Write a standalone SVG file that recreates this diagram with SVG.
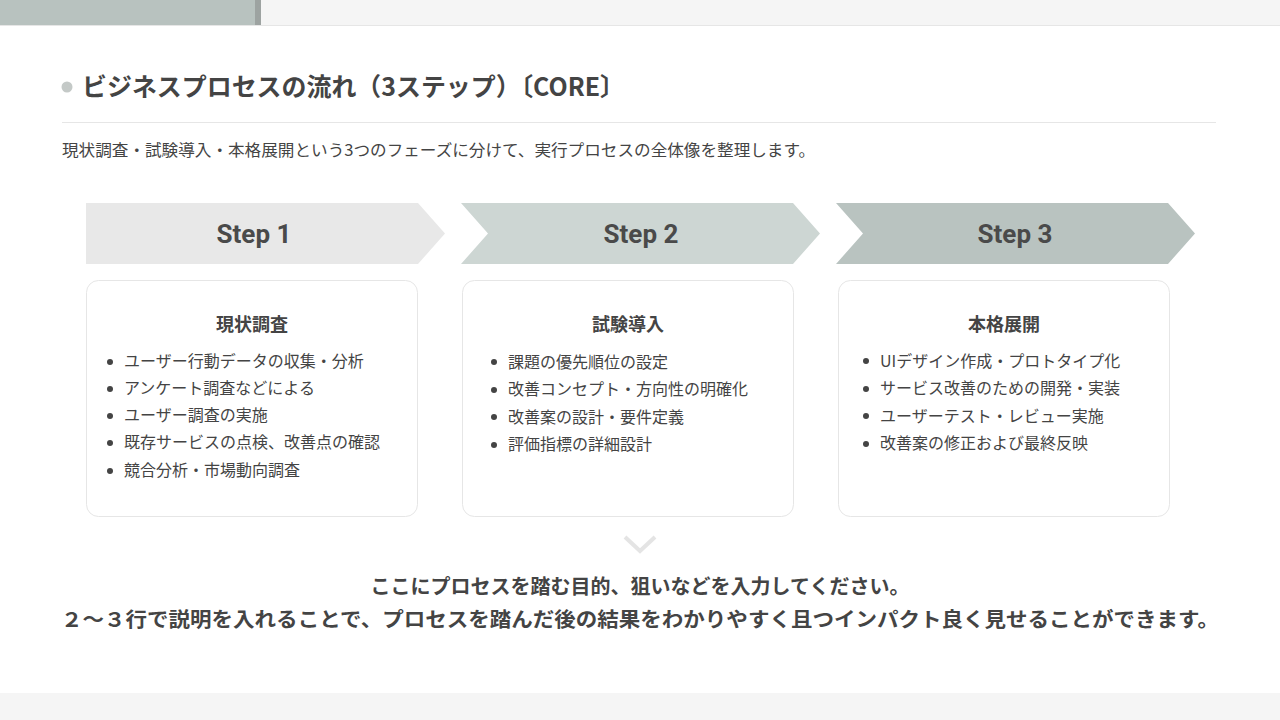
<svg xmlns="http://www.w3.org/2000/svg" width="1280" height="720" viewBox="0 0 1280 720">
<style>
text{font-family:"Noto Sans CJK JP","Noto Sans",sans-serif;fill:#444}
.step{font-family:Roboto,"Noto Sans",sans-serif;font-size:26px;font-weight:700;fill:#4a4a4a;text-anchor:middle}
.card{fill:#fff;stroke:#e6e6e6;stroke-width:1}
.ct{font-size:18px;font-weight:700;text-anchor:middle;fill:#444}
.li{font-size:16px;fill:#555}
.dot{fill:#444}
.msg{font-size:20px;font-weight:700;text-anchor:middle;fill:#444}
</style>
<rect width="1280" height="720" fill="#fff"/>
<rect x="0" y="0" width="1280" height="25" fill="#f5f5f5"/>
<rect x="0" y="0" width="255" height="25" fill="#b8c2bf"/>
<rect x="255" y="0" width="6" height="25" fill="#9da3a1"/>
<line x1="0" y1="25.5" x2="1280" y2="25.5" stroke="#e6e6e6"/>
<rect x="0" y="693" width="1280" height="27" fill="#f5f5f5"/>
<g id="header">
<circle cx="67" cy="87" r="5.5" fill="#c4c9c7"/>
<text x="82" y="96" font-size="25" font-weight="700" fill="#444" textLength="543" lengthAdjust="spacingAndGlyphs">ビジネスプロセスの流れ（3ステップ）〔CORE〕</text>
<line x1="62" y1="122.5" x2="1216" y2="122.5" stroke="#e6e6e6"/>
<text x="62" y="156" font-size="16" fill="#444" textLength="753" lengthAdjust="spacingAndGlyphs">現状調査・試験導入・本格展開という3つのフェーズに分けて、実行プロセスの全体像を整理します。</text>
</g>
<g id="step1">
<polygon points="86,203 418,203 445,233.5 418,264 86,264" fill="#e8e8e8"/>
<text class="step" x="254" y="243">Step 1</text>
</g>
<g id="step2">
<polygon points="461,203 793,203 820,233.5 793,264 461,264 488,233.5" fill="#cdd6d3"/>
<text class="step" x="641" y="243">Step 2</text>
</g>
<g id="step3">
<polygon points="836,203 1168,203 1195,233.5 1168,264 836,264 863,233.5" fill="#b9c3c0"/>
<text class="step" x="1015" y="243">Step 3</text>
</g>
<g id="card1">
<rect class="card" x="86.5" y="280.5" width="331" height="236" rx="12"/>
<text class="ct" x="252" y="331">現状調査</text>
<g class="li">
<circle class="dot" cx="110" cy="362" r="3"/><text x="124" y="367">ユーザー行動データの収集・分析</text>
<circle class="dot" cx="110" cy="389" r="3"/><text x="124" y="394">アンケート調査などによる</text>
<circle class="dot" cx="110" cy="416" r="3"/><text x="124" y="421">ユーザー調査の実施</text>
<circle class="dot" cx="110" cy="443" r="3"/><text x="124" y="448">既存サービスの点検、改善点の確認</text>
<circle class="dot" cx="110" cy="471" r="3"/><text x="124" y="476">競合分析・市場動向調査</text>
</g>
</g>
<g id="card2">
<rect class="card" x="462.5" y="280.5" width="331" height="236" rx="12"/>
<text class="ct" x="628" y="331">試験導入</text>
<g class="li">
<circle class="dot" cx="494" cy="362" r="3"/><text x="508" y="368">課題の優先順位の設定</text>
<circle class="dot" cx="494" cy="390" r="3"/><text x="508" y="395">改善コンセプト・方向性の明確化</text>
<circle class="dot" cx="494" cy="417" r="3"/><text x="508" y="423">改善案の設計・要件定義</text>
<circle class="dot" cx="494" cy="445" r="3"/><text x="508" y="450">評価指標の詳細設計</text>
</g>
</g>
<g id="card3">
<rect class="card" x="838.5" y="280.5" width="331" height="236" rx="12"/>
<text class="ct" x="1004" y="331">本格展開</text>
<g class="li">
<circle class="dot" cx="866" cy="361" r="3"/><text x="880" y="367">UIデザイン作成・プロトタイプ化</text>
<circle class="dot" cx="866" cy="389" r="3"/><text x="880" y="394">サービス改善のための開発・実装</text>
<circle class="dot" cx="866" cy="416" r="3"/><text x="880" y="422">ユーザーテスト・レビュー実施</text>
<circle class="dot" cx="866" cy="444" r="3"/><text x="880" y="449">改善案の修正および最終反映</text>
</g>
</g>
<g id="connectors">
<polyline points="625,537 640,551 655,537" fill="none" stroke="#e4e4e4" stroke-width="4"/>
</g>
<g id="message">
<text class="msg" x="640" y="594">ここにプロセスを踏む目的、狙いなどを入力してください。</text>
<text class="msg" x="640" y="627" textLength="1158" lengthAdjust="spacingAndGlyphs">２～３行で説明を入れることで、プロセスを踏んだ後の結果をわかりやすく且つインパクト良く見せることができます。</text>
</g>
</svg>
